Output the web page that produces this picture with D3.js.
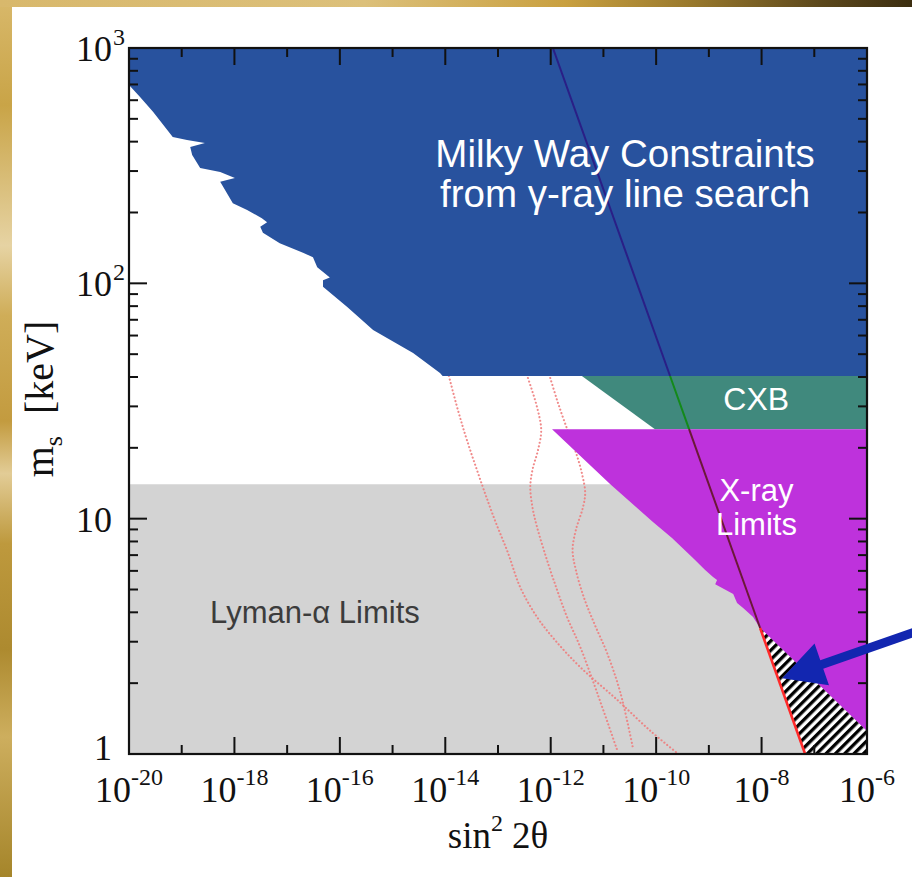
<!DOCTYPE html>
<html>
<head>
<meta charset="utf-8">
<script src="https://cdn.jsdelivr.net/npm/d3@7"></script>
<style>
  html, body { margin: 0; padding: 0; background: #fff; }
  svg { display: block; }
</style>
</head>
<body>
<svg id="chart" width="912" height="877"></svg>
<script>
// ---------- axes ----------
const xDomain = [1e-20, 1e-6];          // sin^2 2θ
const yDomain = [1, 1000];              // m_s [keV]
const xTickExponents = d3.range(-20, -5);
const xLabelExponents = [-20, -18, -16, -14, -12, -10, -8, -6];
const yLabelValues = [1, 10, 100, 1000];
const yLabelBase = ["1", "10", "10", "10"];
const yLabelSup = ["", "", "2", "3"];

// ---------- Milky Way γ-ray line search: lower edge of excluded region ----------
const mwSin2 = [1e-20, 1.62e-20, 2.88e-20, 6.76e-20, 1.26e-19, 2.75e-19, 1.45e-19, 1.58e-19,
  2.24e-19, 5.37e-19, 1.02e-18, 5.37e-19, 9.33e-19, 1.74e-18, 3.31e-18, 4.17e-18, 3.09e-18,
  3.47e-18, 7.24e-18, 2.0e-17, 3.09e-17, 3.72e-17, 6.46e-17, 4.79e-17, 4.79e-17, 1.38e-16,
  4.27e-16, 2.45e-15, 7.94e-15, 8.9e-15];
const mwMass = [697, 619, 535, 419, 407, 395, 380, 351, 309, 297, 280, 270, 219, 205, 189, 182,
  174, 164, 148, 135, 129, 117, 106, 103, 96.6, 79.4, 63.4, 50.6, 41.6, 40.4];

// ---------- cosmic X-ray background band ----------
const cxbSin2 = [3.9e-12, 9.5e-11];
const cxbMass = [40.4, 24.0];

// ---------- X-ray limits: lower-left edge ----------
const xraySin2 = [1.06e-12, 1.35e-11, 8.7e-11, 2.0e-10, 5.0e-10, 8.5e-10, 1.2e-9, 1.43e-9,
  1.32e-9, 2.9e-9, 3.43e-9, 4.47e-9, 6.9e-9, 9.37e-9, 1e-6];
const xrayMass = [24.0, 14.0, 9.68, 8.28, 6.80, 6.05, 5.65, 5.49, 5.27, 4.79, 4.38, 4.17, 3.82,
  3.43, 1.25];

// ---------- Lyman-α bound ----------
const lymanMass = 14.0;

// ---------- production line (two end points) and its colour bands ----------
const prodSin2 = [1.1e-12, 6.7e-8];
const prodMass = [1000, 1];
const prodBreaks = [1000, 40.4, 24.0, 3.43, 1];
const prodColors = ["#2a1f86", "#138a1a", "#6b1838", "#ff2a2a"];

// ---------- dotted model curves ----------
const curveASin2 = [1.17e-14, 1.74e-14, 2.57e-14, 5.0e-14, 8.7e-14, 1.55e-13, 2.63e-13, 5.5e-13,
  1.2e-12, 3.63e-12, 1.82e-11, 7.6e-11, 2.5e-10];
const curveAMass = [40.4, 28.9, 21.6, 13.9, 9.87, 7.15, 5.12, 3.82, 3.05, 2.34, 1.70, 1.26, 1.01];
const curveBSin2 = [3.7e-13, 5.5e-13, 6.6e-13, 5.75e-13, 4.5e-13, 4.1e-13, 4.5e-13, 5.5e-13,
  8.5e-13, 1.32e-12, 2.04e-12, 3.63e-12, 7.6e-12, 1.82e-11];
const curveBMass = [39.6, 29.8, 23.8, 19.6, 16.1, 13.6, 11.2, 9.22, 6.67, 4.98, 3.82, 2.85, 1.82, 1.04];
const curveCSin2 = [9.8e-13, 1.32e-12, 1.86e-12, 2.9e-12, 3.9e-12, 4.5e-12, 4.1e-12, 3.0e-12,
  2.6e-12, 3.0e-12, 4.3e-12, 6.9e-12, 1.17e-11, 2.1e-11, 3.6e-11];
const curveCMass = [39.6, 31.9, 25.5, 19.6, 15.6, 12.9, 11.2, 8.95, 7.36, 6.05, 4.60, 3.53, 2.69,
  1.82, 1.07];

// ---------- pointer to the allowed wedge ----------
const arrowTip = [2.45e-8, 2.10];
const arrowTail = [8.2e-6, 3.30];

// ---------- colours ----------
const colBlue = "#28529e", colTeal = "#40897d", colMagenta = "#be32dc", colGrey = "#d3d3d3";

// ---------- layout ----------
const plot = { left: 129, right: 867, top: 48, bottom: 754 };
const svg = d3.select("#chart");
const x = d3.scaleLog().domain(xDomain).range([plot.left, plot.right]);
const y = d3.scaleLog().domain(yDomain).range([plot.bottom, plot.top]);
const zip = (a, b) => a.map((v, i) => [v, b[i]]);
const line = d3.line().x(d => x(d[0])).y(d => y(d[1]));

const defs = svg.append("defs");

// slide background
const gv = defs.append("linearGradient").attr("id", "goldV").attr("x1", 0).attr("y1", 0).attr("x2", 0).attr("y2", 1);
[[0, "#d8b86a"], [0.12, "#c9a447"], [0.28, "#e6d3a3"], [0.36, "#cfad58"], [0.48, "#c39b3f"],
 [0.54, "#e2cc96"], [0.62, "#be993d"], [0.74, "#ad8a2f"], [0.84, "#cdae5e"], [1, "#a5852a"]]
  .forEach(([o, c]) => gv.append("stop").attr("offset", o).attr("stop-color", c));
const gh = defs.append("linearGradient").attr("id", "goldH").attr("x1", 0).attr("y1", 0).attr("x2", 1).attr("y2", 0);
[[0, "#d8b86c"], [0.4, "#dcc07a"], [0.62, "#c9a040"], [0.76, "#98782c"], [0.9, "#5c481c"], [1, "#3c2e10"]]
  .forEach(([o, c]) => gh.append("stop").attr("offset", o).attr("stop-color", c));

svg.append("rect").attr("width", 912).attr("height", 877).attr("fill", "url(#goldV)");
svg.append("rect").attr("width", 912).attr("height", 7).attr("fill", "url(#goldH)");
svg.append("rect").attr("x", 12).attr("y", 7).attr("width", 900).attr("height", 870).attr("fill", "#fff");

// hatch pattern
const pat = defs.append("pattern").attr("id", "hatch").attr("patternUnits", "userSpaceOnUse")
  .attr("width", 6.6).attr("height", 6.6).attr("patternTransform", "rotate(45)");
pat.append("rect").attr("width", 6.6).attr("height", 6.6).attr("fill", "#fff");
pat.append("rect").attr("width", 3.3).attr("height", 6.6).attr("fill", "#000");

defs.append("clipPath").attr("id", "plotClip").append("rect")
  .attr("x", plot.left).attr("y", plot.top)
  .attr("width", plot.right - plot.left).attr("height", plot.bottom - plot.top);

const g = svg.append("g").attr("clip-path", "url(#plotClip)");

// Lyman-α region
g.append("path").attr("fill", colGrey)
  .attr("d", line([[xDomain[0], yDomain[0]], [xDomain[1], yDomain[0]], [xDomain[1], lymanMass], [xDomain[0], lymanMass]]) + "Z");

// dotted model curves
const smooth = d3.line().x(d => x(d[0])).y(d => y(d[1])).curve(d3.curveCatmullRom.alpha(0.5));
[[curveASin2, curveAMass], [curveBSin2, curveBMass], [curveCSin2, curveCMass]].forEach(([s, m]) => {
  g.append("path").attr("d", smooth(zip(s, m))).attr("fill", "none")
    .attr("stroke", "#ee7c7c").attr("stroke-width", 2.1).attr("stroke-linecap", "round")
    .attr("stroke-dasharray", "0.1,3.6").attr("stroke-opacity", 0.9);
});

// Milky Way region
const mwPts = zip(mwSin2, mwMass).concat([[xDomain[1], mwMass[mwMass.length - 1]], [xDomain[1], yDomain[1]], [xDomain[0], yDomain[1]]]);
g.append("path").attr("fill", colBlue).attr("d", line(mwPts) + "Z");

// CXB band
const cxbPts = zip(cxbSin2, cxbMass).concat([[xDomain[1], cxbMass[1]], [xDomain[1], cxbMass[0]]]);
g.append("path").attr("fill", colTeal).attr("d", line(cxbPts) + "Z");

// X-ray region
const xrPts = zip(xraySin2, xrayMass).concat([[xDomain[1], xrayMass[0]]]);
g.append("path").attr("fill", colMagenta).attr("d", line(xrPts) + "Z");

// production line helper: sin^2 at given mass (straight in log-log)
const lm0 = Math.log10(prodMass[0]), lm1 = Math.log10(prodMass[1]);
const ls0 = Math.log10(prodSin2[0]), ls1 = Math.log10(prodSin2[1]);
const sinAt = m => Math.pow(10, ls0 + (Math.log10(m) - lm0) / (lm1 - lm0) * (ls1 - ls0));

// allowed wedge (hatched)
const kinkM = prodBreaks[3];
const wedge = [[sinAt(kinkM), kinkM], [sinAt(1), 1], [xDomain[1], 1], [xDomain[1], xrayMass[xrayMass.length - 1]]];
g.append("path").attr("fill", "url(#hatch)").attr("d", line(wedge) + "Z");

// production line, coloured per band
for (let i = 0; i < prodColors.length; i++) {
  const a = prodBreaks[i], b = prodBreaks[i + 1];
  g.append("path").attr("fill", "none").attr("stroke", prodColors[i])
    .attr("stroke-width", i === 3 ? 2.6 : 2)
    .attr("d", line([[sinAt(a), a], [sinAt(b), b]]));
}

// ---------- frame and ticks ----------
const axes = svg.append("g").attr("stroke", "#111");
axes.append("rect").attr("x", plot.left).attr("y", plot.top)
  .attr("width", plot.right - plot.left).attr("height", plot.bottom - plot.top)
  .attr("fill", "none").attr("stroke-width", 2.2);

xTickExponents.forEach(e => {
  const px = x(Math.pow(10, e));
  const len = e % 2 === 0 ? 17 : 9;
  axes.append("line").attr("x1", px).attr("x2", px).attr("y1", plot.bottom).attr("y2", plot.bottom - len).attr("stroke-width", 2);
  axes.append("line").attr("x1", px).attr("x2", px).attr("y1", plot.top).attr("y2", plot.top + len).attr("stroke-width", 2);
});
const yTicks = [];
for (let d = 1; d < 1000; d *= 10) for (let k = 1; k < 10; k++) yTicks.push(d * k);
yTicks.push(1000);
yTicks.forEach(v => {
  const py = y(v);
  const major = Math.abs(Math.log10(v) - Math.round(Math.log10(v))) < 1e-9;
  const len = major ? 18 : 9;
  axes.append("line").attr("x1", plot.left).attr("x2", plot.left + len).attr("y1", py).attr("y2", py).attr("stroke-width", 2);
  axes.append("line").attr("x1", plot.right).attr("x2", plot.right - len).attr("y1", py).attr("y2", py).attr("stroke-width", 2);
});

// ---------- tick labels ----------
const serif = "'Liberation Serif', 'Times New Roman', serif";
const sans = "'Liberation Sans', Arial, Helvetica, sans-serif";

xLabelExponents.forEach(e => {
  const t = svg.append("text").attr("x", x(Math.pow(10, e))).attr("y", plot.bottom + 48)
    .attr("text-anchor", "middle").attr("font-family", serif).attr("font-size", 36).attr("fill", "#111");
  t.append("tspan").text("10");
  t.append("tspan").attr("dy", -17).attr("font-size", 24).text("-" + Math.abs(e));
});

yLabelValues.forEach((v, i) => {
  const py = y(v);
  svg.append("text").attr("x", plot.left - 17).attr("y", py + (i === 0 ? 6 : 13))
    .attr("text-anchor", "end").attr("font-family", serif).attr("font-size", 36).attr("fill", "#111")
    .text(yLabelBase[i]);
  if (yLabelSup[i]) {
    svg.append("text").attr("x", plot.left - 16).attr("y", py - 3)
      .attr("font-family", serif).attr("font-size", 24).attr("fill", "#111").text(yLabelSup[i]);
  }
});

// axis titles
const xt = svg.append("text").attr("x", (plot.left + plot.right) / 2).attr("y", 848)
  .attr("text-anchor", "middle").attr("font-family", serif).attr("font-size", 37).attr("fill", "#111");
xt.append("tspan").text("sin");
xt.append("tspan").attr("dy", -17).attr("font-size", 24).text("2");
xt.append("tspan").attr("dy", 17).attr("dx", 9).text("2θ");

const yt = svg.append("text").attr("transform", "translate(53, 399) rotate(-90)")
  .attr("text-anchor", "middle").attr("font-family", serif).attr("font-size", 40).attr("fill", "#111");
yt.append("tspan").text("m");
yt.append("tspan").attr("dy", 9).attr("font-size", 26).text("s");
yt.append("tspan").attr("dy", -9).attr("dx", 22).text("[keV]");

// ---------- region labels ----------
const mwX = x(2.57e-11);
svg.append("text").attr("x", mwX).attr("y", y(312))
  .attr("text-anchor", "middle").attr("font-family", sans).attr("font-size", 38.5).attr("fill", "#fff")
  .text("Milky Way Constraints");
svg.append("text").attr("x", mwX).attr("y", y(212))
  .attr("text-anchor", "middle").attr("font-family", sans).attr("font-size", 38.5).attr("fill", "#fff")
  .text("from γ-ray line search");

svg.append("text").attr("x", x(7.9e-9)).attr("y", y(29.0)).attr("text-anchor", "middle")
  .attr("font-family", sans).attr("font-size", 32).attr("fill", "#fff").text("CXB");

const xrX = x(8.0e-9);
svg.append("text").attr("x", xrX).attr("y", y(11.9)).attr("text-anchor", "middle")
  .attr("font-family", sans).attr("font-size", 31).attr("fill", "#fff").text("X-ray");
svg.append("text").attr("x", xrX).attr("y", y(8.5)).attr("text-anchor", "middle")
  .attr("font-family", sans).attr("font-size", 31).attr("fill", "#fff").text("Limits");

svg.append("text").attr("x", x(3.45e-19)).attr("y", y(3.60))
  .attr("font-family", sans).attr("font-size", 31).attr("fill", "#3c3c3c").text("Lyman-α Limits");

// ---------- arrow ----------
const tip = [x(arrowTip[0]), y(arrowTip[1])];
const tail = [x(arrowTail[0]), y(arrowTail[1])];
const dx = tail[0] - tip[0], dy = tail[1] - tip[1];
const L = Math.hypot(dx, dy), ux = dx / L, uy = dy / L, nx = -uy, ny = ux;
const headLen = 42, headHalf = 22, shaftHalf = 4.5;
const base = [tip[0] + ux * headLen, tip[1] + uy * headLen];
const arrowPts = [
  tip,
  [base[0] + nx * headHalf, base[1] + ny * headHalf],
  [base[0] + nx * shaftHalf, base[1] + ny * shaftHalf],
  [tail[0] + nx * shaftHalf, tail[1] + ny * shaftHalf],
  [tail[0] - nx * shaftHalf, tail[1] - ny * shaftHalf],
  [base[0] - nx * shaftHalf, base[1] - ny * shaftHalf],
  [base[0] - nx * headHalf, base[1] - ny * headHalf]
];
svg.append("path").attr("d", d3.line()(arrowPts) + "Z").attr("fill", "#1226b0");
</script>
</body>
</html>
